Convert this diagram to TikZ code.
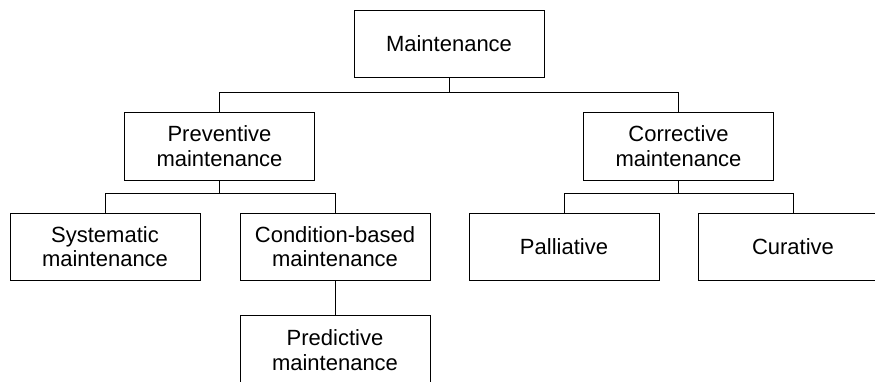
\documentclass[tikz,border=0pt]{standalone}
\usepackage{fontspec}
\setmainfont{Liberation Sans}
\begin{document}
\begin{tikzpicture}[x=1pt, y=-1pt,
    boxnode/.style={draw=black, line width=0.9pt, minimum width=190pt, minimum height=67pt,
      inner sep=0pt, align=center, font=\fontsize{22}{24.5}\selectfont},
    link/.style={draw=black, line width=0.9pt}]
  \useasboundingbox (0,0) rectangle (875,381);

  % top level
  \node[boxnode] (M) at (449,44) {Maintenance};

  % second level
  \node[boxnode, minimum height=68pt] (P) at (219.5,146) {Preventive\\maintenance};
  \node[boxnode, minimum height=68pt] (C) at (678.5,146) {Corrective\\maintenance};

  % third level
  \node[boxnode] (S)  at (105,246.5) {Systematic\\maintenance};
  \node[boxnode] (CB) at (335,246.5) {Condition-based\\maintenance};
  \node[boxnode] (Pa) at (564,246.5) {Palliative};
  \node[boxnode] (Cu) at (793,246.5) {Curative};

  % fourth level
  \node[boxnode, minimum height=70pt] (Pr) at (335,350) {Predictive\\maintenance};

  % bus lines
  \coordinate (mbus) at (449,92.7);
  \coordinate (pbus) at (219.5,193);
  \coordinate (cbus) at (678.5,193);

  \draw[link] (M.south) -- (mbus);
  \draw[link] (mbus) -| (P.north);
  \draw[link] (mbus) -| (C.north);

  \draw[link] (P.south) -- (pbus);
  \draw[link] (pbus) -| (S.north);
  \draw[link] (pbus) -| (CB.north);

  \draw[link] (C.south) -- (cbus);
  \draw[link] (cbus) -| (Pa.north);
  \draw[link] (cbus) -| (Cu.north);

  \draw[link] (CB.south) -- (Pr.north);
\end{tikzpicture}
\end{document}
